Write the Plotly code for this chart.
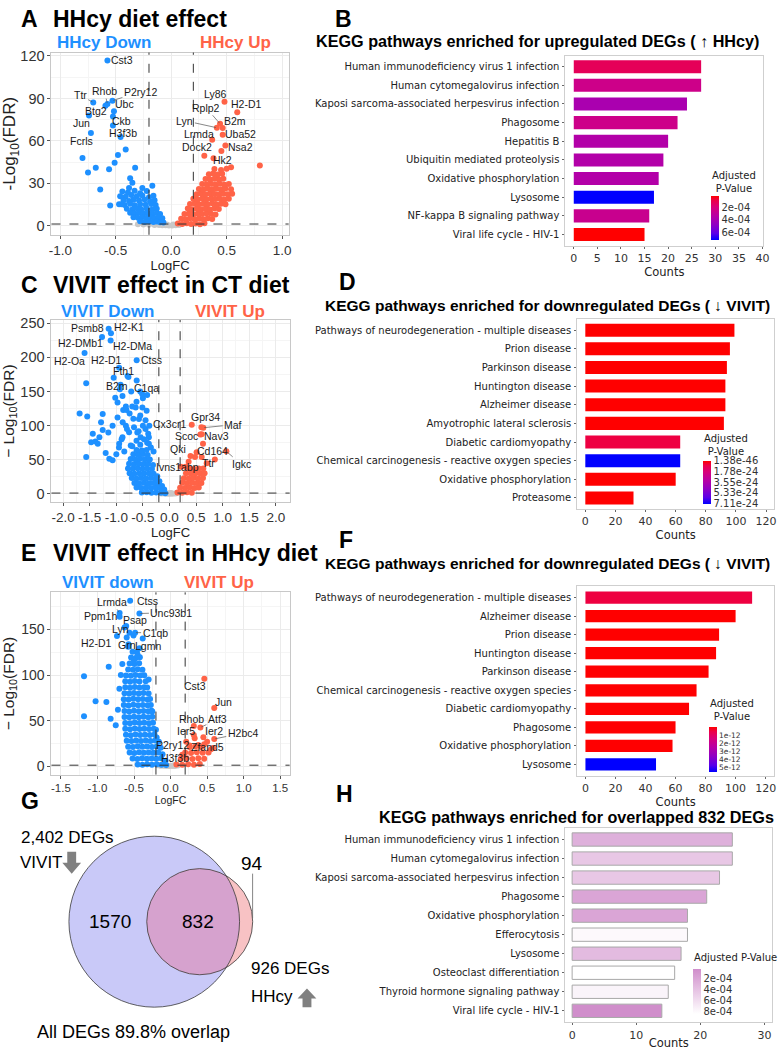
import math
import plotly.graph_objects as go

W, H = 784, 1050
def fx(p): return p / W
def fy(p): return 1 - p / H

BLUE = '#1E90FF'; RED = '#FF6347'; NSG = '#C8C8C8'
FONT = 'Liberation Sans, Arial, sans-serif'
BARFONT = 'DejaVu Sans, sans-serif'
LFC_CUT = 0.2
FDR_CUT = 0.05

# ---------------- Panel A : HHcy diet effect (logFC, -log10 FDR) ----------------
A_down = [(-0.44,24.2),(-0.39,23.5),(-0.33,24.8),(-0.28,23.1),(-0.22,24.6),
          (-0.46,21.0),(-0.41,20.6),(-0.36,21.8),(-0.31,20.9),(-0.26,21.5),(-0.20,20.2),(-0.16,21.3),
          (-0.43,18.2),(-0.38,17.6),(-0.34,18.5),(-0.29,17.9),(-0.24,18.6),(-0.19,17.4),(-0.15,18.1),
          (-0.47,15.3),(-0.42,14.8),(-0.37,15.6),(-0.33,14.6),(-0.28,15.2),(-0.23,14.9),(-0.18,15.4),(-0.14,14.7),
          (-0.40,12.1),(-0.35,11.6),(-0.31,12.4),(-0.27,11.8),(-0.22,12.2),(-0.17,11.5),(-0.13,12.0),
          (-0.37,9.2),(-0.33,8.7),(-0.29,9.4),(-0.25,8.9),(-0.21,9.1),(-0.17,8.6),(-0.13,9.0),(-0.10,8.4),
          (-0.34,6.1),(-0.30,5.7),(-0.26,6.3),(-0.22,5.8),(-0.18,6.2),(-0.15,5.6),(-0.11,6.0),(-0.08,5.3),
          (-0.28,3.2),(-0.24,2.8),(-0.20,3.1),(-0.16,2.7),(-0.13,3.0),(-0.10,2.6),(-0.07,2.4),
          (-0.17,28.4),(-0.35,30.5),(-0.38,26.8),(-0.55,14.4),(-0.45,15.2),(-0.26,26.7),
          (-0.41,54.0),(-0.48,50.0),(-0.80,48.0),(-0.75,37.7),(-0.68,41.0),(-0.56,40.0),(-0.51,44.6),
          (-0.325,41.0),(-0.37,33.7),(-0.64,25.6),(-0.525,70.9)]
A_up = [(0.06,1.6),(0.10,1.3),(0.14,1.8),(0.18,1.4),(0.22,1.7),(0.26,1.2),(0.30,1.9),
        (0.09,5.1),(0.13,4.7),(0.17,5.3),(0.21,4.8),(0.25,5.2),(0.29,4.6),(0.33,5.4),(0.37,4.9),
        (0.12,8.4),(0.16,8.8),(0.20,8.2),(0.24,8.7),(0.28,8.3),(0.32,8.9),(0.36,8.5),(0.40,8.1),
        (0.15,12.2),(0.19,11.7),(0.23,12.3),(0.27,11.8),(0.31,12.1),(0.35,11.6),(0.39,12.4),(0.43,11.9),
        (0.17,15.4),(0.21,15.8),(0.25,15.2),(0.29,15.7),(0.33,15.3),(0.37,15.9),(0.41,15.1),(0.45,15.6),(0.49,15.3),
        (0.20,19.2),(0.24,18.7),(0.28,19.3),(0.32,18.8),(0.36,19.4),(0.40,18.9),(0.44,19.1),(0.48,18.6),(0.52,19.2),
        (0.23,22.4),(0.27,22.8),(0.31,22.3),(0.35,22.9),(0.39,22.5),(0.43,22.2),(0.47,22.7),(0.51,22.4),(0.55,22.6),
        (0.25,26.1),(0.29,25.7),(0.33,26.3),(0.37,25.8),(0.41,26.2),(0.45,25.6),(0.49,26.4),(0.54,25.9),
        (0.28,29.6),(0.32,29.2),(0.36,29.8),(0.40,29.3),(0.44,29.7),(0.48,29.1),(0.52,29.5),
        (0.31,33.1),(0.35,32.7),(0.39,33.3),(0.43,32.8),(0.47,33.2),
        (0.34,36.4),(0.38,36.9),(0.42,36.3),(0.46,36.8),
        (0.39,40.1),(0.45,39.5),(0.50,40.3),
        (0.80,42.6),(0.54,41.4),(0.453,52.8)]
A_ns = [(-0.30,1.2),(-0.25,0.9),(-0.20,0.8),(-0.15,0.7),(-0.11,0.6),(-0.08,0.5),(-0.05,0.4),
        (-0.02,0.3),(0.01,0.2),(0.04,0.4),(0.07,0.6),(-0.13,1.4),(-0.04,1.0),(0.02,0.9)]
A_genes = ['Cst3','Ttr','Rhob','P2ry12','Btg2','Ubc','Ckb','Jun','Fcrls','H3f3b',
           'Ly86','H2-D1','Rplp2','B2m','Lyn','Uba52','Lrmda','Nsa2','Dock2','Hk2']
A_gene_fc = [-0.575,-0.703,-0.575,-0.530,-0.593,-0.516,-0.525,-0.741,-0.724,-0.456,
             0.481,0.596,0.441,0.465,0.412,0.465,0.370,0.489,0.299,0.382]
A_gene_fdr = [116.7,87.2,86.0,88.4,84.9,80.9,77.2,77.9,65.6,62.8,
              87.7,80.2,72.1,69.1,69.3,64.4,60.9,56.7,49.5,47.7]
A_lab_dx = [15,-13,-3,28,-9,11,9,-8,-9,2, -9,9,-14,12,-32,18,-13,15,-7,9]
A_lab_dy = [-1,-7,-13,-9,5,-7,4,7,8,-4, -8,-8,-16,-7,-7,-1,-6,1,-9,2]
A_lab_line = [0,1,1,1,0,0,0,0,0,0, 0,0,1,0,1,0,0,0,0,0]

# ---------------- Panel C : VIVIT effect in CT diet ----------------
C_down = [(-0.52,2.0),(-0.43,2.5),(-0.34,1.8),(-0.25,2.2),(-0.16,1.6),(-0.08,1.2),
          (-0.62,9.4),(-0.53,8.8),(-0.44,9.2),(-0.35,8.6),(-0.26,9.1),(-0.17,8.4),(-0.10,6.5),
          (-0.66,16.2),(-0.57,15.6),(-0.48,16.4),(-0.39,15.8),(-0.30,16.1),(-0.21,15.3),(-0.14,11.5),
          (-0.71,23.4),(-0.62,22.7),(-0.53,23.2),(-0.44,22.8),(-0.35,23.5),(-0.26,22.6),(-0.19,18.5),
          (-0.75,30.2),(-0.66,29.6),(-0.57,30.4),(-0.48,29.8),(-0.39,30.3),(-0.30,29.5),(-0.23,26.0),
          (-0.78,37.3),(-0.69,36.8),(-0.60,37.5),(-0.51,36.9),(-0.42,37.2),(-0.33,36.6),
          (-0.76,44.1),(-0.67,43.6),(-0.58,44.4),(-0.49,43.8),(-0.40,44.2),(-0.31,42.5),
          (-0.73,51.2),(-0.64,50.7),(-0.55,51.5),(-0.46,50.9),(-0.37,50.3),
          (-0.68,58.1),(-0.59,57.6),(-0.50,58.4),(-0.41,57.2),
          (-0.62,64.3),(-0.52,63.8),(-0.43,64.5),
          (-1.566,162),(-1.690,118),(-1.547,113.6),(-1.256,117),(-1.287,105),(-1.442,88),(-1.473,75.9),
          (-1.392,76.9),(-1.318,83.2),(-1.566,54.2),(-1.132,51.7),(-1.07,49.3),(-0.79,172.6),(-0.617,166.3),
          (-0.884,143.6),(-1.02,141),(-0.977,134),(-0.871,122.8),(-0.81,122.8),(-0.636,126.7),(-0.977,112),
          (-1.07,100),(-0.82,100),(-0.667,97.7),(-0.574,109.8),(-0.51,126.7),(-0.76,90.4),(-0.884,83.2),
          (-0.946,73.5),(-0.729,71),(-0.543,83.2),(-0.605,90),(-0.45,95),(-0.43,121.9),(-0.388,83.2),
          (-0.388,73.5),(-1.256,93.8),(-1.349,73.5),(-0.95,68),(-0.85,62),(-0.90,80),(-0.70,70),(-0.55,72),
          (-0.62,78),(-0.48,80),(-0.42,75),(-0.35,68),(-0.30,62),(-0.80,95),(-0.58,92),(-0.50,100),
          (-0.45,108),(-0.68,110),(-0.75,118),(-0.55,115),(-0.62,135),(-0.50,140),(-0.82,128),(-0.40,88),
          (-0.38,100),(-0.42,145),(-0.55,150),(-0.72,150),(-0.92,160),(-1.05,170),(-0.88,105),(-1.15,90),
          (-1.20,60),(-1.00,58),(-0.70,128)]
C_up = [(0.15,2.1),(0.24,1.7),(0.33,2.4),(0.42,1.9),
        (0.20,9.2),(0.29,8.7),(0.38,9.4),(0.47,8.9),(0.55,9.6),
        (0.24,16.3),(0.33,15.8),(0.42,16.5),(0.51,15.9),(0.60,16.2),
        (0.27,23.1),(0.36,22.7),(0.45,23.4),(0.54,22.8),(0.63,23.3),
        (0.31,30.4),(0.40,29.8),(0.49,30.5),(0.58,29.9),(0.66,30.2),
        (0.37,37.2),(0.46,36.7),(0.55,37.4),
        (0.636,37.2),(0.48,54.0),(0.36,47.0),(0.605,54.0),(0.51,61.0),(0.70,45.0),(0.30,40.0)]
C_ns = [(-0.15,0.8),(-0.10,0.5),(-0.05,0.3),(0.0,0.2),(0.05,0.4),(0.10,0.7),(0.13,1.2),(-0.02,1.0),(0.03,1.3)]
C_genes = ['Psmb8','H2-K1','H2-DMb1','H2-DMa','H2-Oa','H2-D1','Ctss','Fth1','B2m','C1qa',
           'Cx3cr1','Gpr34','Maf','Scoc','Nav3','Cd164','Igkc','Ttr','Qki','Ivns1abp']
C_gene_fc = [-1.144,-1.101,-1.268,-1.107,-1.597,-0.946,-0.617,-0.772,-0.933,-0.512,
             0.419,0.600,0.636,0.580,0.605,0.630,1.070,0.853,0.395,0.214]
C_gene_fdr = [241.8,235.5,229.7,224.9,206.5,184.7,195.8,171.2,153.3,146.0,
              101.5,97.7,97.0,87.0,87.5,73.5,62.4,50.3,55.6,39.7]
C_lab_dx = [-21,18,-22,22,-15,-13,15,-5,-3,4, -22,4,30,-14,15,10,15,-6,-12,-3]
C_lab_dy = [-1,-6,6,6,8,-8,0,-6,-3,-6, -1,-10,-3,1,2,7,13,3,-7,0]
C_lab_line = [0,0,0,0,0,1,0,0,0,0, 0,0,1,0,0,0,1,0,0,0]

# ---------------- Panel E : VIVIT effect in HHcy diet ----------------
E_down = [(-0.45,2.1),(-0.385,1.7),(-0.32,2.4),(-0.255,1.9),(-0.19,2.3),(-0.125,1.8),(-0.06,1.5),
          (-0.52,8.6),(-0.455,8.2),(-0.39,8.9),(-0.325,8.4),(-0.26,8.7),(-0.195,8.3),(-0.13,8.8),(-0.07,6.2),
          (-0.56,15.2),(-0.495,14.7),(-0.43,15.4),(-0.365,14.9),(-0.30,15.3),(-0.235,14.8),(-0.17,15.1),(-0.11,13.2),
          (-0.58,21.6),(-0.515,21.2),(-0.45,21.9),(-0.385,21.4),(-0.32,21.7),(-0.255,21.3),(-0.19,21.8),(-0.135,20.4),
          (-0.60,28.1),(-0.535,27.7),(-0.47,28.4),(-0.405,27.9),(-0.34,28.2),(-0.275,27.8),(-0.21,28.3),(-0.16,26.9),
          (-0.61,34.6),(-0.545,34.2),(-0.48,34.9),(-0.415,34.4),(-0.35,34.7),(-0.285,34.3),(-0.22,34.8),(-0.19,31.5),
          (-0.62,41.1),(-0.555,40.7),(-0.49,41.4),(-0.425,40.9),(-0.36,41.2),(-0.295,40.8),(-0.23,41.3),
          (-0.62,47.6),(-0.555,47.2),(-0.49,47.9),(-0.425,47.4),(-0.36,47.7),(-0.295,47.3),(-0.24,47.8),
          (-0.63,54.1),(-0.565,53.7),(-0.50,54.4),(-0.435,53.9),(-0.37,54.2),(-0.305,53.8),(-0.25,54.3),
          (-0.63,60.6),(-0.565,60.2),(-0.50,60.9),(-0.435,60.4),(-0.37,60.7),(-0.305,60.3),(-0.26,60.8),
          (-0.64,67.1),(-0.575,66.7),(-0.51,67.4),(-0.445,66.9),(-0.38,67.2),(-0.315,66.8),(-0.27,67.3),
          (-0.64,73.6),(-0.575,73.2),(-0.51,73.9),(-0.445,73.4),(-0.38,73.7),(-0.315,73.3),(-0.28,73.8),
          (-0.63,80.1),(-0.565,79.7),(-0.50,80.4),(-0.435,79.9),(-0.37,80.2),(-0.30,79.8),
          (-0.62,86.6),(-0.555,86.2),(-0.49,86.9),(-0.425,86.4),(-0.36,86.7),(-0.32,86.3),
          (-0.62,93.1),(-0.555,92.7),(-0.49,93.4),(-0.425,92.9),(-0.34,93.2),
          (-0.61,99.6),(-0.545,99.2),(-0.48,99.9),(-0.415,99.4),(-0.36,99.7),
          (-0.58,106.1),(-0.515,105.7),(-0.45,106.4),(-0.385,105.9),
          (-0.56,112.6),(-0.495,112.2),(-0.43,112.9),
          (-0.54,119.1),(-0.475,118.7),(-0.42,119.4),
          (-0.52,125.6),(-0.46,125.2),
          (-1.184,98.7),(-1.026,71.2),(-0.878,70.5),(-1.184,54.9),(-0.846,109.0),(-0.75,45.0),
          (-0.82,52.0),(-0.70,85.0),(-0.72,62.0),(-0.68,100.0),(-0.66,112.0),(-0.60,141.0),
          (-0.507,143.2),(-0.381,140.0),(-0.63,152.0),(-0.50,116.0),(-0.45,122.0),(-0.58,131.0),
          (-0.25,60.0),(-0.20,40.0),(-0.30,95.0)]
E_up = [(0.08,2.1),(0.16,1.7),(0.24,2.4),(0.32,1.9),(0.40,2.6),
        (0.14,8.4),(0.22,8.9),(0.30,8.2),(0.38,8.8),(0.46,8.3),
        (0.20,15.2),(0.28,14.7),(0.36,15.4),(0.44,14.9),(0.52,15.3),
        (0.26,21.3),(0.34,21.8),(0.42,21.1),
        (0.553,18.8),(0.46,24.2),(0.33,30.7),(0.26,22.8),(0.50,27.0),(0.58,20.0)]
E_ns = [(-0.18,1.2),(-0.14,0.8),(-0.10,0.6),(-0.06,0.4),(-0.02,0.3),(0.02,0.3),(0.06,0.5),
        (0.10,0.9),(0.04,1.3),(-0.08,1.5)]
E_genes = ['Ctss','Lrmda','Ppm1h','Unc93b1','Psap','Lyn','C1qb','H2-D1','Grn','Lgmn',
           'Cst3','Jun','Atf3','Rhob','Ier5','Ier2','H2bc4','Zfand5','P2ry12','H3f3b']
E_gene_fc = [-0.553,-0.697,-0.697,-0.426,-0.607,-0.562,-0.485,-0.733,-0.575,-0.426,
             0.462,0.598,0.408,0.318,0.318,0.449,0.598,0.380,0.214,0.160]
E_gene_fdr = [181.4,168.0,163.7,167.3,153.6,146.4,146.4,142.8,133.7,129.4,
              95.8,64.0,42.6,44.1,34.3,31.8,30.0,23.5,27.0,12.6]
E_lab_dx = [17,-8,-19,32,9,-9,20,-20,-2,9, -9,9,17,-2,-8,11,29,9,-14,-7]
E_lab_dy = [0,-11,-1,-1,-6,-4,0,7,1,-2, 7,-6,-8,-7,-4,-6,-6,2,3,3]
E_lab_line = [0,1,0,1,0,0,1,0,0,0, 0,0,1,0,0,0,1,0,0,0]

# ---------------- KEGG bar panels ----------------
B_terms = ['Human immunodeficiency virus 1 infection', 'Human cytomegalovirus infection',
           'Kaposi sarcoma-associated herpesvirus infection', 'Phagosome', 'Hepatitis B',
           'Ubiquitin mediated proteolysis', 'Oxidative phosphorylation', 'Lysosome',
           'NF-kappa B signaling pathway', 'Viral life cycle - HIV-1']
B_counts = [27, 27, 24, 22, 20, 19, 18, 17, 16, 15]
B_padj = [1.3e-4, 2.5e-4, 3.9e-4, 2.5e-4, 3.6e-4, 3.6e-4, 3.6e-4, 7.3e-4, 2.7e-4, 2.5e-5]
B_cb_ticks = [2e-4, 4e-4, 6e-4]
B_cb_text = ['2e-04', '4e-04', '6e-04']

D_terms = ['Pathways of neurodegeneration - multiple diseases', 'Prion disease', 'Parkinson disease',
           'Huntington disease', 'Alzheimer disease', 'Amyotrophic lateral sclerosis',
           'Diabetic cardiomyopathy', 'Chemical carcinogenesis - reactive oxygen species',
           'Oxidative phosphorylation', 'Proteasome']
D_counts = [99, 96, 94, 93, 93, 92, 63, 63, 60, 32]
D_padj = [1.38e-46, 1e-40, 1e-38, 1e-36, 1e-35, 1e-34, 6.5e-25, 7.11e-24, 1e-33, 2e-27]
D_cb_ticks = [1.38e-46, 1.78e-24, 3.55e-24, 5.33e-24, 7.11e-24]
D_cb_text = ['1.38e-46', '1.78e-24', '3.55e-24', '5.33e-24', '7.11e-24']

F_terms = ['Pathways of neurodegeneration - multiple diseases', 'Alzheimer disease', 'Prion disease',
           'Huntington disease', 'Parkinson disease', 'Chemical carcinogenesis - reactive oxygen species',
           'Diabetic cardiomyopathy', 'Phagosome', 'Oxidative phosphorylation', 'Lysosome']
F_counts = [111, 100, 89, 87, 82, 74, 69, 60, 58, 47]
F_padj = [5e-13, 1e-16, 1e-15, 1e-15, 1e-14, 1e-14, 1e-14, 1e-14, 1e-14, 5.6e-12]
F_cb_ticks = [1e-12, 2e-12, 3e-12, 4e-12, 5e-12]
F_cb_text = ['1e-12', '2e-12', '3e-12', '4e-12', '5e-12']

H_terms = ['Human immunodeficiency virus 1 infection', 'Human cytomegalovirus infection',
           'Kaposi sarcoma-associated herpesvirus infection', 'Phagosome', 'Oxidative phosphorylation',
           'Efferocytosis', 'Lysosome', 'Osteoclast differentiation', 'Thyroid hormone signaling pathway',
           'Viral life cycle - HIV-1']
H_counts = [25, 25, 23, 21, 18, 18, 17, 16, 15, 14]
H_padj = [2.7e-4, 4.3e-4, 4.3e-4, 1.9e-4, 1.9e-4, 8.0e-4, 3.5e-4, 8.4e-4, 7.6e-4, 2e-5]
H_cb_ticks = [2e-4, 4e-4, 6e-4, 8e-4]
H_cb_text = ['2e-04', '4e-04', '6e-04', '8e-04']

# ---------------- Venn (G) ----------------
VIVIT_only = 1570
overlap = 832
HHcy_only = 94

RB_SCALE = [[0, '#0000FF'], [0.15, '#5a00e8'], [0.35, '#9000c4'], [0.55, '#b800a4'],
            [0.75, '#d8007a'], [0.9, '#ec0048'], [1, '#FF0000']]
PINK_SCALE = [[0, '#ffffff'], [1, '#d08ecb']]

fig = go.Figure()
annotations = []
shapes = []

def axn(i):
    return ('x' if i == 1 else f'x{i}'), ('y' if i == 1 else f'y{i}')

def volcano(i, down, up, ns, genes, gfc, gfdr, gdx, gdy, gline):
    xr, yr = axn(i)
    for pts, col in ((ns, NSG), (down, BLUE), (up, RED)):
        fig.add_trace(go.Scatter(x=[p[0] for p in pts], y=[p[1] for p in pts], mode='markers',
                                 marker=dict(size=6, color=col), xaxis=xr, yaxis=yr,
                                 showlegend=False, hoverinfo='skip'))
    fig.add_trace(go.Scatter(x=gfc, y=gfdr, mode='markers',
                             marker=dict(size=6, color=[BLUE if v < 0 else RED for v in gfc]),
                             xaxis=xr, yaxis=yr, showlegend=False, hoverinfo='skip'))
    for v in (-LFC_CUT, LFC_CUT):
        shapes.append(dict(type='line', xref=xr, yref=yr + ' domain', x0=v, x1=v, y0=0, y1=1,
                           line=dict(color='#333333', width=1, dash='dash')))
    h = -math.log10(FDR_CUT)
    shapes.append(dict(type='line', xref=xr + ' domain', yref=yr, x0=0, x1=1, y0=h, y1=h,
                       line=dict(color='#333333', width=1, dash='dash')))
    for g, x, y, ddx, ddy, ln in zip(genes, gfc, gfdr, gdx, gdy, gline):
        annotations.append(dict(x=x, y=y, xref=xr, yref=yr, text=g, showarrow=True, ax=ddx, ay=ddy,
                                arrowhead=0, arrowwidth=0.7, standoff=1,
                                arrowcolor='#555555' if ln else 'rgba(0,0,0,0)',
                                font=dict(family=FONT, size=10.5, color='#1a1a1a')))

def kegg(i, terms, counts, padj, scale, ticks, ticktext, cbx, cbtop, cblen, width, outline=None, cbfont=10):
    xr, yr = axn(i)
    neg = [-p for p in padj]
    fig.add_trace(go.Bar(x=counts, y=terms, orientation='h', width=width, xaxis=xr, yaxis=yr,
                         showlegend=False, hoverinfo='skip',
                         marker=dict(color=neg, colorscale=scale, cmin=-max(padj), cmax=-min(padj),
                                     showscale=True,
                                     line=dict(color=outline if outline else 'rgba(0,0,0,0)',
                                               width=1 if outline else 0),
                                     colorbar=dict(x=fx(cbx), xanchor='left', y=fy(cbtop), yanchor='top',
                                                   len=cblen, lenmode='pixels', thickness=8,
                                                   thicknessmode='pixels', outlinewidth=0, ticks='',
                                                   xpad=0, ypad=0,
                                                   tickvals=[-t for t in ticks], ticktext=ticktext,
                                                   tickfont=dict(family=BARFONT, size=cbfont, color='#333')))))

volcano(1, A_down, A_up, A_ns, A_genes, A_gene_fc, A_gene_fdr, A_lab_dx, A_lab_dy, A_lab_line)
volcano(3, C_down, C_up, C_ns, C_genes, C_gene_fc, C_gene_fdr, C_lab_dx, C_lab_dy, C_lab_line)
volcano(5, E_down, E_up, E_ns, E_genes, E_gene_fc, E_gene_fdr, E_lab_dx, E_lab_dy, E_lab_line)

kegg(2, B_terms, B_counts, B_padj, RB_SCALE, B_cb_ticks, B_cb_text, 716, 193, 44, 0.7)
kegg(4, D_terms, D_counts, D_padj, RB_SCALE, D_cb_ticks, D_cb_text, 708, 460, 43, 0.7)
kegg(6, F_terms, F_counts, F_padj, RB_SCALE, F_cb_ticks, F_cb_text, 714, 729, 45, 0.66, cbfont=7.5)
kegg(8, H_terms, H_counts, H_padj, PINK_SCALE, H_cb_ticks, H_cb_text, 698, 973, 45, 0.7, outline='#a8a8a8')

# ---------------- Venn geometry from set sizes ----------------
nA = VIVIT_only + overlap
nB = HHcy_only + overlap
rA = math.sqrt(nA / math.pi)
rB = math.sqrt(nB / math.pi)

def lens(d, r1, r2):
    a1 = math.acos(max(-1, min(1, (d * d + r1 * r1 - r2 * r2) / (2 * d * r1))))
    a2 = math.acos(max(-1, min(1, (d * d + r2 * r2 - r1 * r1) / (2 * d * r2))))
    k = max(0.0, (-d + r1 + r2) * (d + r1 - r2) * (d - r1 + r2) * (d + r1 + r2))
    return r1 * r1 * a1 + r2 * r2 * a2 - 0.5 * math.sqrt(k)

lo, hi = rA - rB + 1e-9, rA + rB
for _ in range(200):
    mid = (lo + hi) / 2
    if lens(mid, rA, rB) > overlap:
        lo = mid
    else:
        hi = mid
dAB = (lo + hi) / 2

s = 86.3 / rA          # pixels per unit
cxp, cyp = 153, 925.5  # pixel centre of the VIVIT circle
G_x0, G_x1, G_y0, G_y1 = 0, 330, 830, 1025
gx_range = [(G_x0 - cxp) / s, (G_x1 - cxp) / s]
gy_range = [(cyp - G_y1) / s, (cyp - G_y0) / s]

shapes.append(dict(type='circle', xref='x7', yref='y7', x0=-rA, x1=rA, y0=-rA, y1=rA,
                   fillcolor='#c9c9f8', line=dict(width=0), layer='below'))
shapes.append(dict(type='circle', xref='x7', yref='y7', x0=dAB - rB, x1=dAB + rB, y0=-rB, y1=rB,
                   fillcolor='#f8c2c4', line=dict(width=0), layer='below'))
lx, ly = [], []
for k in range(361):
    t = 2 * math.pi * k / 360
    px_, py_ = dAB + rB * math.cos(t), rB * math.sin(t)
    r = math.hypot(px_, py_)
    if r > rA:
        px_, py_ = px_ * rA / r, py_ * rA / r
    lx.append(px_); ly.append(py_)
fig.add_trace(go.Scatter(x=lx, y=ly, mode='lines', fill='toself', fillcolor='#d6a2ce',
                         line=dict(width=0), xaxis='x7', yaxis='y7', showlegend=False, hoverinfo='skip'))
shapes.append(dict(type='circle', xref='x7', yref='y7', x0=-rA, x1=rA, y0=-rA, y1=rA,
                   line=dict(color='#3a3a3a', width=0.8)))
shapes.append(dict(type='circle', xref='x7', yref='y7', x0=dAB - rB, x1=dAB + rB, y0=-rB, y1=rB,
                   line=dict(color='#3a3a3a', width=0.8)))

def P(x, y):
    return f'{fx(x):.5f},{fy(y):.5f}'

GREYARROW = '#808080'
shapes.append(dict(type='path', xref='paper', yref='paper', fillcolor=GREYARROW, line=dict(width=0),
                   path='M' + P(65, 855) + ' L' + P(74, 855) + ' L' + P(74, 866) + ' L' + P(79, 866) +
                        ' L' + P(69.5, 877) + ' L' + P(60, 866) + ' L' + P(65, 866) + ' Z'))
shapes.append(dict(type='path', xref='paper', yref='paper', fillcolor=GREYARROW, line=dict(width=0),
                   path='M' + P(307.5, 993) + ' L' + P(317, 1003) + ' L' + P(312, 1003) + ' L' + P(312, 1012) +
                        ' L' + P(303, 1012) + ' L' + P(303, 1003) + ' L' + P(298, 1003) + ' Z'))
shapes.append(dict(type='line', xref='paper', yref='paper', x0=fx(252.5), x1=fx(252.5), y0=fy(877), y1=fy(922),
                   line=dict(color='#666666', width=0.8)))

def txt(x, y, text, size, family=FONT, color='#000000', xanchor='left', bold=False):
    annotations.append(dict(x=fx(x), y=fy(y), xref='paper', yref='paper', xanchor=xanchor, yanchor='middle',
                            text=f'<b>{text}</b>' if bold else text, showarrow=False,
                            font=dict(family=family, size=size, color=color)))

# Venn texts
txt(16, 841, f'{nA:,} DEGs', 17)
txt(15, 866, 'VIVIT', 17)
txt(108, 925, f'{VIVIT_only}', 19, xanchor='center')
txt(197, 925, f'{overlap}', 19, xanchor='center')
txt(252, 867, f'{HHcy_only}', 19, xanchor='center')
txt(249, 973, f'{nB:,} DEGs', 17)
txt(249, 1001, 'HHcy', 17)
txt(132, 1037, f'All DEGs {100 * overlap / nB:.1f}% overlap', 18, xanchor='center')

# panel letters and titles
for L, x, y in (('A', 16, 14), ('C', 16, 283), ('E', 16, 553), ('G', 16, 804),
                ('B', 334, 14), ('D', 338, 280), ('F', 338, 540), ('H', 335, 797)):
    txt(x, y, L, 23, bold=True)
txt(49, 14, 'HHcy diet effect', 23, bold=True)
txt(49, 283, 'VIVIT effect in CT diet', 23, bold=True)
txt(49, 553, 'VIVIT effect in HHcy diet', 23, bold=True)

txt(102, 38, 'HHcy Down', 17, color=BLUE, xanchor='center', bold=True)
txt(235, 38, 'HHcy Up', 17, color=RED, xanchor='center', bold=True)
txt(106, 309, 'VIVIT Down', 17, color=BLUE, xanchor='center', bold=True)
txt(230, 309, 'VIVIT Up', 17, color=RED, xanchor='center', bold=True)
txt(106, 583, 'VIVIT down', 17, color=BLUE, xanchor='center', bold=True)
txt(219, 583, 'VIVIT Up', 17, color=RED, xanchor='center', bold=True)

txt(541, 36, 'KEGG pathways enriched for upregulated DEGs ( ↑ HHcy)', 16.2, bold=True, xanchor='center')
txt(551, 303, 'KEGG pathways enriched for downregulated DEGs ( ↓ VIVIT)', 15.5, bold=True, xanchor='center')
txt(551, 564, 'KEGG pathways enriched for downregulated DEGs ( ↓ VIVIT)', 15.5, bold=True, xanchor='center')
txt(580, 820, 'KEGG pathways enriched for overlapped 832 DEGs', 16.2, bold=True, xanchor='center')

txt(715, 179, 'Adjusted<br>P-Value', 10, family=BARFONT, color='#222')
txt(707, 444, 'Adjusted<br>P-Value', 10, family=BARFONT, color='#222')
txt(713, 712, 'Adjusted<br>P-Value', 10, family=BARFONT, color='#222')
txt(697, 962, 'Adjusted P-Value', 10, family=BARFONT, color='#222')

# ---------------- axes ----------------
def vx(dom, rng, ticks, fmt, size=13.5, title_size=13):
    return dict(domain=[fx(dom[0]), fx(dom[1])], range=rng, tickvals=ticks,
                ticktext=[fmt.format(t) for t in ticks], showgrid=True, gridcolor='#ebebeb', gridwidth=1,
                minor=dict(showgrid=True, gridcolor='#f5f5f5', dtick=(ticks[1] - ticks[0]) / 2),
                zeroline=False, showline=True, mirror=True, linecolor='#c8c8c8', linewidth=1,
                ticks='outside', ticklen=3, tickcolor='#555', tickfont=dict(family=FONT, size=size, color='#333'),
                title=dict(text='LogFC', font=dict(family=FONT, size=title_size, color='#222'), standoff=2))

def vy(dom, rng, ticks, title, size=14.5, title_size=15.5):
    return dict(domain=[fy(dom[1]), fy(dom[0])], range=rng, tickvals=ticks,
                ticktext=[str(t) for t in ticks], showgrid=True, gridcolor='#ebebeb', gridwidth=1,
                minor=dict(showgrid=True, gridcolor='#f5f5f5', dtick=(ticks[1] - ticks[0]) / 2),
                zeroline=False, showline=True, mirror=True, linecolor='#c8c8c8', linewidth=1,
                ticks='outside', ticklen=3, tickcolor='#555', tickfont=dict(family=FONT, size=size, color='#333'),
                title=dict(text=title, font=dict(family=FONT, size=title_size, color='#222'), standoff=3))

def bx(dom, rng, ticks):
    return dict(domain=[fx(dom[0]), fx(dom[1])], range=rng, tickvals=ticks, showgrid=False, zeroline=False,
                showline=True, mirror=True, linecolor='#cfcfcf', linewidth=1.2, ticks='outside', ticklen=2,
                tickcolor='#666', tickfont=dict(family=BARFONT, size=11, color='#333'),
                title=dict(text='Counts', font=dict(family=BARFONT, size=11.5, color='#222'), standoff=0))

def by(dom, terms):
    return dict(domain=[fy(dom[1]), fy(dom[0])], type='category', categoryorder='array', categoryarray=terms,
                range=[9.6, -0.6], showgrid=False, zeroline=False, showline=True, mirror=True,
                linecolor='#cfcfcf', linewidth=1.2, ticks='outside', ticklen=2, tickcolor='#666',
                ticklabelstandoff=1, tickfont=dict(family=BARFONT, size=10, color='#222'))

layout = dict(
    width=W, height=H, margin=dict(l=0, r=0, t=0, b=0), paper_bgcolor='white', plot_bgcolor='white',
    showlegend=False, annotations=annotations, shapes=shapes,
    xaxis=dict(vx((49, 289), [-1.08, 1.06], [-1.0, -0.5, 0.0, 0.5, 1.0], '{:.1f}'), anchor='y'),
    yaxis=dict(vy((48, 232), [-6.3, 122.4], [0, 30, 60, 90, 120], '-Log<sub>10</sub>(FDR)', title_size=17), anchor='x'),
    xaxis3=dict(vx((49, 290), [-2.22, 2.26], [-2.0, -1.5, -1.0, -0.5, 0.0, 0.5, 1.0, 1.5, 2.0], '{:.1f}'), anchor='y3'),
    yaxis3=dict(vy((318, 502), [-12.1, 254.8], [0, 50, 100, 150, 200, 250], '\u2212 Log<sub>10</sub>(FDR)'), anchor='x3'),
    xaxis5=dict(vx((49, 290), [-1.63, 1.63], [-1.5, -1.0, -0.5, 0.0, 0.5, 1.0, 1.5], '{:.1f}', size=11.5, title_size=10.5), anchor='y5'),
    yaxis5=dict(vy((593, 777), [-9.0, 190.5], [0, 50, 100, 150], '\u2212 Log<sub>10</sub>(FDR)', size=14), anchor='x5'),
    xaxis2=dict(bx((569, 769), [-1.76, 40.15], [0, 5, 10, 15, 20, 25, 30, 35, 40]), anchor='y2'),
    yaxis2=dict(by((51, 243), B_terms), anchor='x2'),
    xaxis4=dict(bx((581, 780), [-5.3, 125.3], [0, 20, 40, 60, 80, 100, 120]), anchor='y4'),
    yaxis4=dict(by((317, 509), D_terms), anchor='x4'),
    xaxis6=dict(bx((581, 780), [-5.4, 125.6], [0, 20, 40, 60, 80, 100, 120]), anchor='y6'),
    yaxis6=dict(by((587, 778), F_terms), anchor='x6'),
    xaxis8=dict(bx((569, 778), [-1.04, 31.2], [0, 10, 20, 30]), anchor='y8'),
    yaxis8=dict(by((831, 1027), H_terms), anchor='x8'),
    xaxis7=dict(domain=[fx(G_x0), fx(G_x1)], range=gx_range, visible=False, anchor='y7'),
    yaxis7=dict(domain=[fy(G_y1), fy(G_y0)], range=gy_range, visible=False, anchor='x7'),
)
fig.update_layout(**layout)
fig.write_html('out.html')
